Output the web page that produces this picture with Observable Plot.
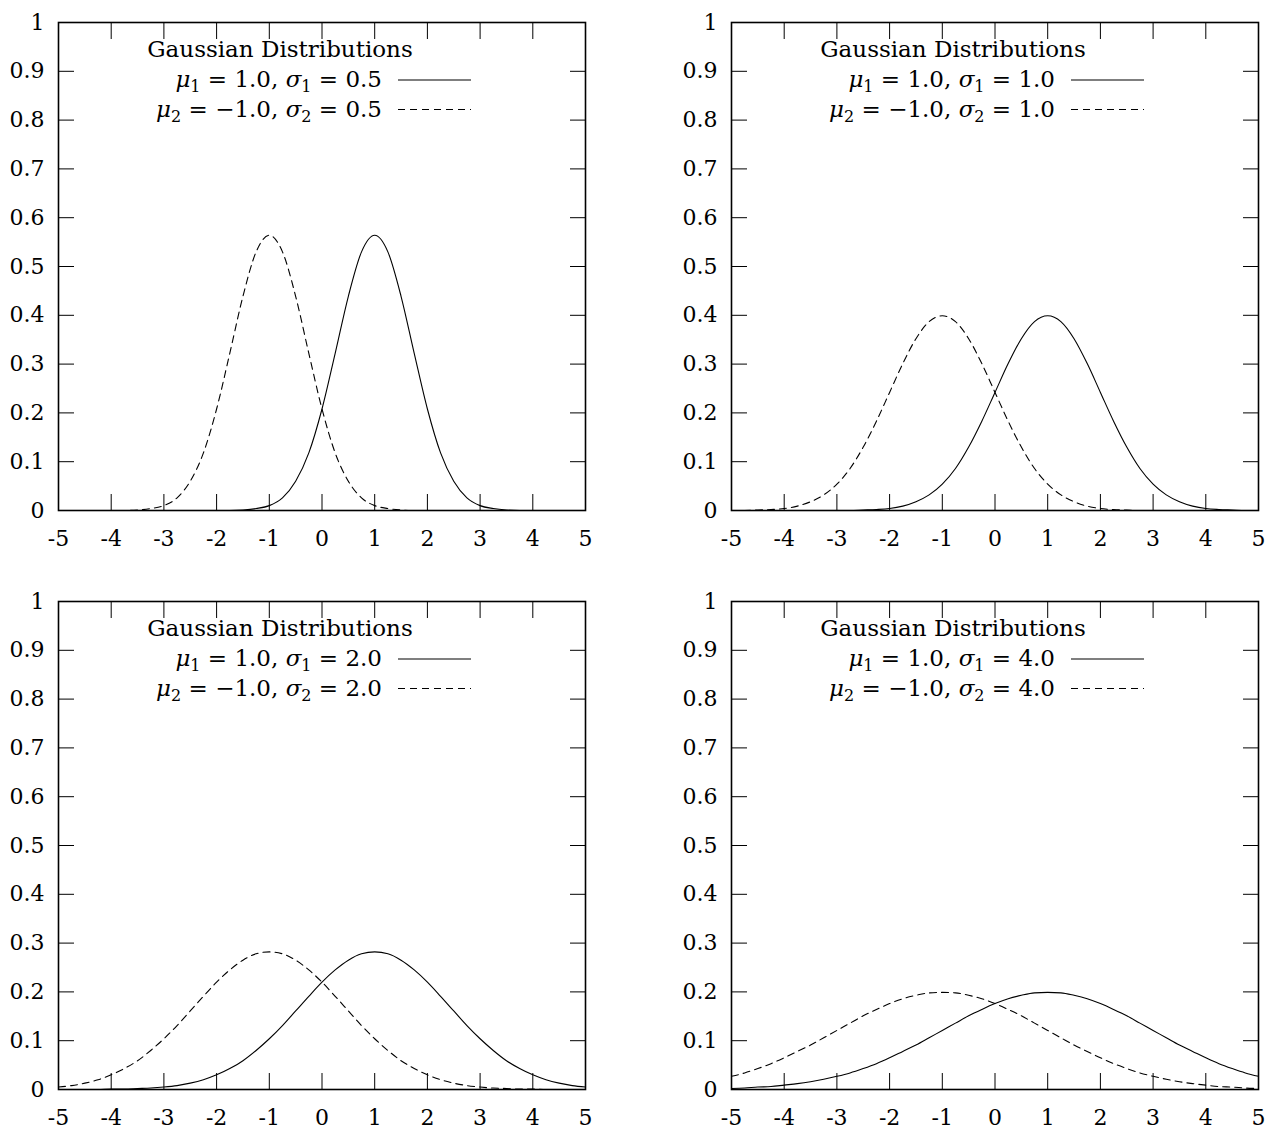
<!DOCTYPE html>
<html>
<head>
<meta charset="utf-8">
<script src="https://cdn.jsdelivr.net/npm/d3@7"></script>
<script src="https://cdn.jsdelivr.net/npm/@observablehq/plot@0.6"></script>
<style>
  html, body { margin: 0; padding: 0; background: #fff; }
  body { width: 1283px; height: 1131px; position: relative; overflow: hidden; }
  .panel { position: absolute; width: 641px; height: 565px; }
  .panel svg { max-width: none !important; }
</style>
</head>
<body>
<script>
// ---- data ----
const xValues = [-5,-4.75,-4.5,-4.25,-4,-3.75,-3.5,-3.25,-3,-2.75,-2.5,-2.25,-2,-1.75,-1.5,-1.25,-1,-0.75,-0.5,-0.25,0,0.25,0.5,0.75,1,1.25,1.5,1.75,2,2.25,2.5,2.75,3,3.25,3.5,3.75,4,4.25,4.5,4.75,5];

// sigma = 0.5
const solid05  = [0,0,0,0,0,0,0,0,0,0,0,0,0,0,0.001,0.004,0.010,0.026,0.060,0.118,0.208,0.322,0.439,0.530,0.564,0.530,0.439,0.322,0.208,0.118,0.060,0.026,0.010,0.004,0.001,0,0,0,0,0,0];
const dashed05 = [0,0,0,0,0,0,0.001,0.004,0.010,0.026,0.060,0.118,0.208,0.322,0.439,0.530,0.564,0.530,0.439,0.322,0.208,0.118,0.060,0.026,0.010,0.004,0.001,0,0,0,0,0,0,0,0,0,0,0,0,0,0];
// sigma = 1.0
const solid10  = [0,0,0,0,0,0,0,0,0,0,0.001,0.002,0.004,0.009,0.018,0.032,0.054,0.086,0.130,0.183,0.242,0.301,0.352,0.387,0.399,0.387,0.352,0.301,0.242,0.183,0.130,0.086,0.054,0.032,0.018,0.009,0.004,0.002,0.001,0,0];
const dashed10 = [0,0,0.001,0.002,0.004,0.009,0.018,0.032,0.054,0.086,0.130,0.183,0.242,0.301,0.352,0.387,0.399,0.387,0.352,0.301,0.242,0.183,0.130,0.086,0.054,0.032,0.018,0.009,0.004,0.002,0.001,0,0,0,0,0,0,0,0,0,0];
// sigma = 2.0
const solid20  = [0,0,0,0,0.001,0.001,0.002,0.003,0.005,0.008,0.013,0.020,0.030,0.043,0.059,0.080,0.104,0.131,0.161,0.191,0.220,0.245,0.265,0.278,0.282,0.278,0.265,0.245,0.220,0.191,0.161,0.131,0.104,0.080,0.059,0.043,0.030,0.020,0.013,0.008,0.005];
const dashed20 = [0.005,0.008,0.013,0.020,0.030,0.043,0.059,0.080,0.104,0.131,0.161,0.191,0.220,0.245,0.265,0.278,0.282,0.278,0.265,0.245,0.220,0.191,0.161,0.131,0.104,0.080,0.059,0.043,0.030,0.020,0.013,0.008,0.005,0.003,0.002,0.001,0.001,0,0,0,0];
// sigma = 4.0
const solid40  = [0.002,0.003,0.005,0.006,0.009,0.012,0.016,0.021,0.027,0.034,0.043,0.053,0.065,0.078,0.091,0.106,0.121,0.136,0.151,0.164,0.176,0.186,0.193,0.198,0.199,0.198,0.193,0.186,0.176,0.164,0.151,0.136,0.121,0.106,0.091,0.078,0.065,0.053,0.043,0.034,0.027];
const dashed40 = [0.027,0.034,0.043,0.053,0.065,0.078,0.091,0.106,0.121,0.136,0.151,0.164,0.176,0.186,0.193,0.198,0.199,0.198,0.193,0.186,0.176,0.164,0.151,0.136,0.121,0.106,0.091,0.078,0.065,0.053,0.043,0.034,0.027,0.021,0.016,0.012,0.009,0.006,0.005,0.003,0.002];

const sigmaLabels = ["0.5", "1.0", "2.0", "4.0"];
const mu1Label = "1.0";
const mu2Label = "\u22121.0";
const legendTitle = "Gaussian Distributions";

const xTicks = [-5,-4,-3,-2,-1,0,1,2,3,4,5];
const yTicks = [0,0.1,0.2,0.3,0.4,0.5,0.6,0.7,0.8,0.9,1];

const solidSeries  = [solid05, solid10, solid20, solid40];
const dashedSeries = [dashed05, dashed10, dashed20, dashed40];

// ---- layout ----
const W = 641, H = 565;
const mL = 58, mT = 22, mR = 56, mB = 55;
const FONT = "DejaVu Serif";
const panelPos = [[0, 0], [673, 0], [0, 579], [673, 579]];

function makePanel(k) {
  const s = solidSeries[k], d = dashedSeries[k];
  const solidData = xValues.map((x, i) => ({x, y: s[i]}));
  const dashedData = xValues.map((x, i) => ({x, y: d[i]}));
  const fmt = v => String(v);
  const svg = Plot.plot({
    width: W, height: H,
    marginLeft: mL, marginTop: mT, marginRight: mR, marginBottom: mB,
    x: {domain: [-5, 5]},
    y: {domain: [0, 1]},
    style: {fontFamily: FONT, fontSize: "22px", background: "white", color: "black", overflow: "visible", maxWidth: "none"},
    marks: [
      Plot.line(solidData, {x: "x", y: "y", stroke: "black", strokeWidth: 1.1, curve: "monotone-x"}),
      Plot.line(dashedData, {x: "x", y: "y", stroke: "black", strokeWidth: 1.1, strokeDasharray: "7,5", curve: "monotone-x"}),
      // inward ticks on all four sides
      Plot.axisX(xTicks, {anchor: "bottom", tickSize: 16, dy: -16, fill: "none", label: null}),
      Plot.axisX(xTicks, {anchor: "top", tickSize: 16, dy: 16, fill: "none", label: null}),
      Plot.axisY(yTicks, {anchor: "left", tickSize: 16, dx: 16, fill: "none", label: null}),
      Plot.axisY(yTicks, {anchor: "right", tickSize: 16, dx: -16, fill: "none", label: null}),
      // tick labels
      Plot.axisX(xTicks, {anchor: "bottom", tickSize: 0, tickPadding: 20, tickFormat: fmt, label: null, fontSize: 22}),
      Plot.axisY(yTicks, {anchor: "left", tickSize: 0, tickPadding: 14, tickFormat: fmt, label: null, fontSize: 22}),
      Plot.frame({stroke: "black", strokeWidth: 1.6})
    ]
  });
  svg.style.maxWidth = "none";
  svg.setAttribute("width", W);
  svg.setAttribute("height", H);

  // legend (inside the plot frame, top-left area)
  const g = d3.select(svg).append("g")
    .attr("font-family", FONT)
    .attr("font-size", 23)
    .attr("fill", "black");
  g.append("text")
    .attr("x", mL + 222).attr("y", mT + 35)
    .attr("text-anchor", "middle")
    .text(legendTitle);

  const rows = [
    {mu: mu1Label, idx: "1", dash: null},
    {mu: mu2Label, idx: "2", dash: "7,5"}
  ];
  rows.forEach((r, j) => {
    const yb = mT + 65 + j * 29.5;
    const t = g.append("text")
      .attr("x", mL + 324).attr("y", yb)
      .attr("text-anchor", "end")
      .style("white-space", "pre");
    t.append("tspan").attr("font-style", "italic").text("\u03bc");
    t.append("tspan").attr("font-size", 16).attr("dy", 5).text(r.idx);
    t.append("tspan").attr("dy", -5).text(" = " + r.mu + ", ");
    t.append("tspan").attr("font-style", "italic").text("\u03c3");
    t.append("tspan").attr("font-size", 16).attr("dy", 5).text(r.idx);
    t.append("tspan").attr("dy", -5).text(" = " + sigmaLabels[k]);
    g.append("line")
      .attr("x1", mL + 340).attr("x2", mL + 413)
      .attr("y1", yb - 7).attr("y2", yb - 7)
      .attr("stroke", "black").attr("stroke-width", 1.1)
      .attr("stroke-dasharray", r.dash);
  });

  const div = document.createElement("div");
  div.className = "panel";
  div.style.left = panelPos[k][0] + "px";
  div.style.top = panelPos[k][1] + "px";
  div.appendChild(svg);
  document.body.appendChild(div);
}

for (let k = 0; k < 4; k++) makePanel(k);
</script>
</body>
</html>
